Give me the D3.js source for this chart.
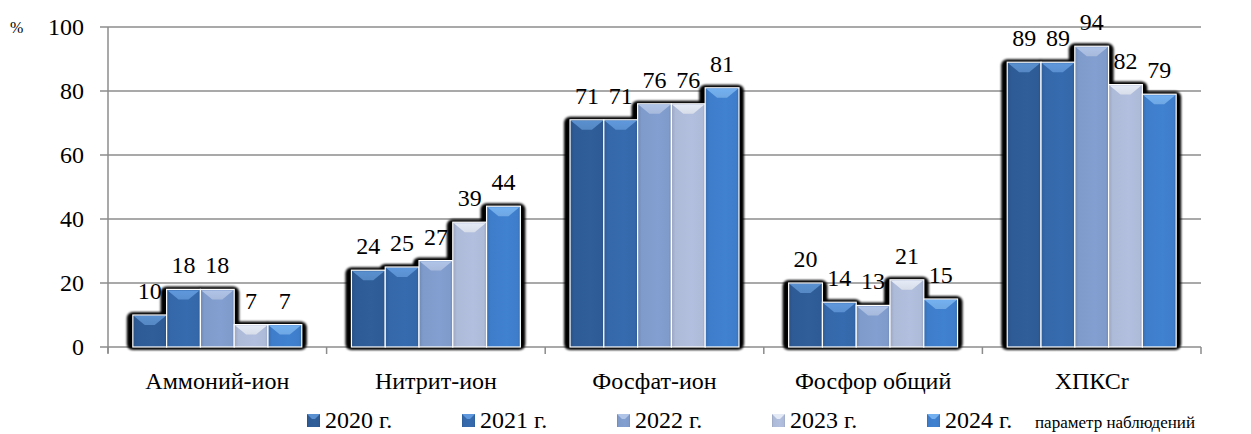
<!DOCTYPE html>
<html><head><meta charset="utf-8">
<script src="https://cdn.jsdelivr.net/npm/d3@7"></script>
<style>
#chart, #chart text { font-family: "Liberation Serif", Tinos, "Times New Roman" !important; }
</style>
</head>
<body style="margin:0;padding:0;background:#fff">
<svg id="chart" width="1251" height="434"></svg>
<script>
const categories = ["Аммоний-ион","Нитрит-ион","Фосфат-ион","Фосфор общий","ХПКСr"];
const seriesNames = ["2020 г.","2021 г.","2022 г.","2023 г.","2024 г."];
const v2020 = [10, 24, 71, 20, 89];
const v2021 = [18, 25, 71, 14, 89];
const v2022 = [18, 27, 76, 13, 94];
const v2023 = [7, 39, 76, 21, 82];
const v2024 = [7, 44, 81, 15, 79];
const yTicks = [0, 20, 40, 60, 80, 100];
const yUnit = "%";
const legendNote = "параметр наблюдений";

const seriesValues = [v2020, v2021, v2022, v2023, v2024];
const colors = ["#2e5b95", "#3468aa", "#7f9bcb", "#adbad8", "#3e7dca"];
const topColors = ["#5a90cf", "#5f98dc", "#b0c4e8", "#e4eaf6", "#74b0f0"];

const svg = d3.select("#chart");
const pLeft = 108, pRight = 1201, pTop = 27, pBottom = 347;
const x = d3.scaleBand().domain(categories).range([pLeft, pRight]).paddingInner(0).paddingOuter(0);
const inner = d3.scaleBand().domain(seriesNames).range([0, x.bandwidth()]).paddingOuter(0.735).paddingInner(0);
const y = d3.scaleLinear().domain([0, 100]).range([pBottom, pTop]);

function txt(sel, size) {
  return sel.style("font", size + "px Liberation Serif").style("fill", "#000");
}

const defs = svg.append("defs");
const blur = defs.append("filter").attr("id", "soft").attr("x", "-20%").attr("y", "-20%").attr("width", "140%").attr("height", "140%");
blur.append("feGaussianBlur").attr("stdDeviation", 0.8);
colors.forEach((c, i) => {
  const g = defs.append("linearGradient").attr("id", "g" + i).attr("x1", 0).attr("x2", 1).attr("y1", 0).attr("y2", 0);
  const dk = d3.color(c).darker(0.35), lt = d3.color(c).brighter(0.08);
  g.append("stop").attr("offset", "0%").attr("stop-color", dk);
  g.append("stop").attr("offset", "12%").attr("stop-color", c);
  g.append("stop").attr("offset", "60%").attr("stop-color", lt);
  g.append("stop").attr("offset", "92%").attr("stop-color", c);
  g.append("stop").attr("offset", "100%").attr("stop-color", dk);
  const t = defs.append("linearGradient").attr("id", "t" + i).attr("x1", 0).attr("x2", 0).attr("y1", 0).attr("y2", 1);
  t.append("stop").attr("offset", "0%").attr("stop-color", topColors[i]);
  t.append("stop").attr("offset", "100%").attr("stop-color", d3.color(topColors[i]).darker(0.15));
});

// gridlines
svg.append("g").selectAll("line").data(yTicks).join("line")
  .attr("x1", pLeft - 8).attr("x2", pRight)
  .attr("y1", d => y(d)).attr("y2", d => y(d))
  .attr("stroke", "#8c8c8c").attr("stroke-width", 1.5);

// y axis line
svg.append("line").attr("x1", pLeft).attr("x2", pLeft).attr("y1", pTop).attr("y2", pBottom + 6)
  .attr("stroke", "#8c8c8c").attr("stroke-width", 1.5);

// x ticks at category boundaries
const bounds = categories.map(c => x(c)).concat([pRight]);
svg.append("g").selectAll("line").data(bounds).join("line")
  .attr("x1", d => d).attr("x2", d => d).attr("y1", pBottom).attr("y2", pBottom + 7)
  .attr("stroke", "#8c8c8c").attr("stroke-width", 1.5);

// y tick labels
txt(svg.append("g").selectAll("text").data(yTicks).join("text")
  .attr("x", 84).attr("y", d => y(d) + 8)
  .attr("text-anchor", "end").text(d => d), 24);
txt(svg.append("text").attr("x", 10).attr("y", 33).text(yUnit), 16);

// data
const bars = [];
categories.forEach((c, ci) => {
  seriesNames.forEach((s, si) => {
    bars.push({c, s, si, v: seriesValues[si][ci]});
  });
});
const bw = inner.bandwidth();
const bx = d => x(d.c) + inner(d.s);

// shadows
svg.append("g").attr("filter", "url(#soft)").selectAll("rect").data(bars).join("rect")
  .attr("x", d => bx(d) - 6).attr("y", d => y(d.v) - 3)
  .attr("width", bw + 11).attr("height", d => pBottom - y(d.v) + 6)
  .attr("rx", 6).attr("fill", "#000");

const bg = svg.append("g").selectAll("g").data(bars).join("g");
bg.append("rect")
  .attr("x", d => bx(d)).attr("y", d => y(d.v))
  .attr("width", bw).attr("height", d => pBottom - y(d.v))
  .attr("fill", d => `url(#g${d.si})`)
  .attr("stroke", "#fff").attr("stroke-width", 1.2);
bg.append("polygon")
  .attr("points", d => {
    const x0 = bx(d) + 1, x1 = bx(d) + bw - 1, y0 = y(d.v) + 1, h = Math.min(9, pBottom - y(d.v) - 2);
    const mx = bx(d) + bw / 2;
    return `${x0},${y0} ${x1},${y0} ${mx + 5},${y0 + h} ${mx - 5},${y0 + h}`;
  })
  .attr("fill", d => `url(#t${d.si})`);

// value labels
txt(svg.append("g").selectAll("text").data(bars).join("text")
  .attr("x", d => bx(d) + bw / 2).attr("y", d => y(d.v) - 16)
  .attr("text-anchor", "middle").text(d => d.v), 24);

// category labels
txt(svg.append("g").selectAll("text").data(categories).join("text")
  .attr("x", d => x(d) + x.bandwidth() / 2).attr("y", 389)
  .attr("text-anchor", "middle").text(d => d), 24);

// legend
const lx = d3.scalePoint().domain(seriesNames).range([307, 927]);
const lg = svg.append("g").selectAll("g").data(seriesNames).join("g")
  .attr("transform", d => `translate(${lx(d)},414)`);
lg.append("rect").attr("width", 13).attr("height", 13).attr("fill", (d, i) => `url(#g${i})`);
lg.append("polygon").attr("points", "0,0 13,0 8,5 5,5").attr("fill", (d, i) => topColors[i]);
txt(lg.append("text").attr("x", 18).attr("y", 14).text(d => d), 24);
txt(svg.append("text").attr("x", 1035).attr("y", 428).text(legendNote), 17);
</script>
</body></html>
